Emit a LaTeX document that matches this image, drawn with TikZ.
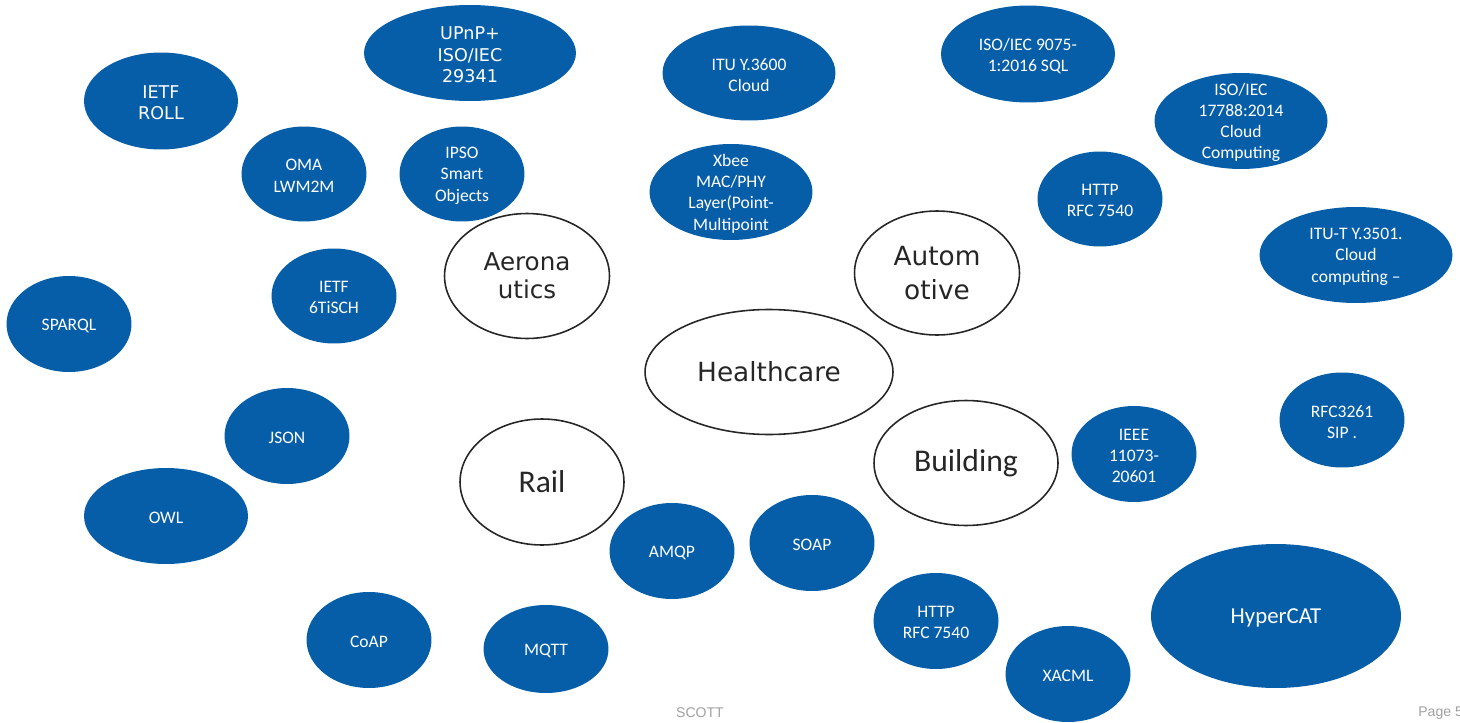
\documentclass[tikz,border=0pt]{standalone}
\usepackage{fontspec}
\setmainfont{Carlito}
\newfontfamily\widefont{DejaVu Sans}
\newfontfamily\footfont{Liberation Sans}
\usetikzlibrary{shapes.geometric}
\definecolor{stdblue}{RGB}{6,94,168}
\definecolor{footgrey}{RGB}{160,160,160}
\tikzset{
  std/.style={ellipse,fill=stdblue,inner sep=0pt},
  dom/.style={ellipse,draw=black!85,fill=white,line width=.9pt,inner sep=0pt,text=black!85,align=center},
  lb/.style={text=white,align=center,inner sep=0pt,yshift=-1pt,font=\fontsize{10}{12}\selectfont},
  lbw/.style={text=white,align=center,inner sep=0pt,yshift=-1pt,font=\widefont\fontsize{10}{12}\selectfont},
  foot/.style={text=footgrey,inner sep=0pt,font=\footfont\fontsize{8}{9}\selectfont},
}
\begin{document}
\begin{tikzpicture}[x=0.02cm,y=-0.02cm]
\useasboundingbox (0,0) rectangle (1460,723);
% standards (blue)
\node[std,minimum width=4.24cm,minimum height=1.92cm] (upnp) at (470,53) {};
\node[lbw] (upnp-t) at (upnp) {UPnP+\\ISO/IEC\\29341};
\node[std,minimum width=3.08cm,minimum height=1.94cm] (roll) at (161,101) {};
\node[lbw] (roll-t) at (roll) {IETF\\ROLL};
\node[std,minimum width=2.5cm,minimum height=1.9cm] (oma) at (304,174) {};
\node[lb] (oma-t) at (oma) {OMA\\LWM2M};
\node[std,minimum width=2.5cm,minimum height=1.9cm] (ipso) at (462,174) {};
\node[lb] (ipso-t) at (ipso) {IPSO\\Smart\\Objects};
\node[std,minimum width=3.46cm,minimum height=1.9cm] (itu) at (749,73) {};
\node[lb] (itu-t) at (itu) {ITU Y.3600\\Cloud};
\node[std,minimum width=3.48cm,minimum height=1.94cm] (sql) at (1028,54) {};
\node[lb] (sql-t) at (sql) {ISO/IEC 9075-\\1:2016 SQL};
\node[std,minimum width=3.46cm,minimum height=1.92cm] (cloud) at (1241,121) {};
\node[lb] (cloud-t) at (cloud) {ISO/IEC\\17788:2014\\Cloud\\Computing};
\node[std,minimum width=3.26cm,minimum height=1.92cm] (xbee) at (731,192) {};
\node[lb] (xbee-t) at (xbee) {Xbee\\MAC/PHY\\Layer(Point-\\Multipoint};
\node[std,minimum width=2.5cm,minimum height=1.9cm] (httpa) at (1100,199) {};
\node[lb] (httpa-t) at (httpa) {HTTP\\RFC 7540};
\node[std,minimum width=3.86cm,minimum height=1.92cm] (itut) at (1356,255) {};
\node[lb] (itut-t) at (itut) {ITU-T Y.3501.\\Cloud\\computing –};
\node[std,minimum width=2.5cm,minimum height=1.9cm] (tisch) at (334,296) {};
\node[lb] (tisch-t) at (tisch) {IETF\\6TiSCH};
\node[std,minimum width=2.5cm,minimum height=1.92cm] (sparql) at (69,324) {};
\node[lb] (sparql-t) at (sparql) {SPARQL};
\node[std,minimum width=2.5cm,minimum height=1.92cm] (json) at (287,436) {};
\node[lb] (json-t) at (json) {JSON};
\node[std,minimum width=3.28cm,minimum height=1.92cm] (owl) at (166,516) {};
\node[lb] (owl-t) at (owl) {OWL};
\node[std,minimum width=2.5cm,minimum height=1.92cm] (coap) at (369,640) {};
\node[lb] (coap-t) at (coap) {CoAP};
\node[std,minimum width=2.5cm,minimum height=1.76cm] (mqtt) at (546,649) {};
\node[lb] (mqtt-t) at (mqtt) {MQTT};
\node[std,minimum width=2.5cm,minimum height=1.92cm] (amqp) at (672,551) {};
\node[lb] (amqp-t) at (amqp) {AMQP};
\node[std,minimum width=2.5cm,minimum height=1.92cm] (soap) at (812,543) {};
\node[lb] (soap-t) at (soap) {SOAP};
\node[std,minimum width=2.5cm,minimum height=1.92cm] (ieee) at (1134,454) {};
\node[lb] (ieee-t) at (ieee) {IEEE\\11073-\\20601};
\node[std,minimum width=2.5cm,minimum height=1.9cm] (sip) at (1342,420) {};
\node[lb] (sip-t) at (sip) {RFC3261\\SIP .};
\node[std,minimum width=2.5cm,minimum height=1.92cm] (httpb) at (936,621) {};
\node[lb] (httpb-t) at (httpb) {HTTP\\RFC 7540};
\node[std,minimum width=2.5cm,minimum height=1.92cm] (xacml) at (1068,674) {};
\node[lb] (xacml-t) at (xacml) {XACML};
\node[std,minimum width=5.0cm,minimum height=2.88cm] (hypercat) at (1276,616) {};
\node[lb,font=\fontsize{13}{15}\selectfont] (hypercat-t) at (hypercat) {HyperCAT};
% domains (white)
\node[dom,minimum width=3.3cm,minimum height=2.5cm,font=\widefont\fontsize{14}{16}\selectfont] (aero) at (527,276) {Aerona\\utics};
\node[dom,minimum width=3.3cm,minimum height=2.48cm,font=\widefont\fontsize{15}{19}\selectfont] (auto) at (937,273) {Autom\\otive};
\node[dom,minimum width=4.96cm,minimum height=2.5cm,font=\widefont\fontsize{15}{18}\selectfont] (health) at (769,372) {Healthcare};
\node[dom,minimum width=3.28cm,minimum height=2.52cm,font=\fontsize{18}{21}\selectfont] (rail) at (542,482) {Rail};
\node[dom,minimum width=3.68cm,minimum height=2.5cm,font=\fontsize{18}{21}\selectfont] (building) at (966,463) {Building};
% footer
\node[foot] (scott) at (700,713) {SCOTT};
\node[foot,anchor=west] (page) at (1418,713) {Page 5};
\end{tikzpicture}
\end{document}
